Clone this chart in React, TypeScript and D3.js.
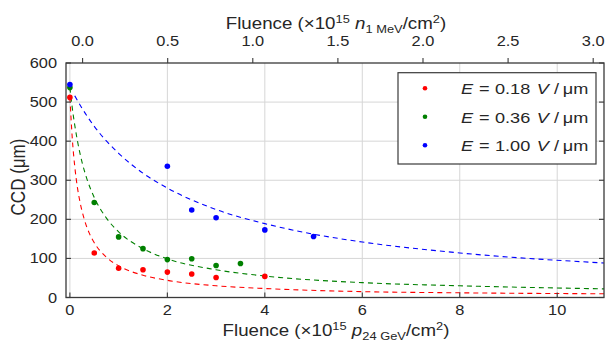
import React from "react";
import * as d3 from "d3";

// ---- data ----
const redX = [0, 0.5, 1, 1.5, 2, 2.5, 3, 4];
const redY = [512, 114, 75, 71, 65, 60, 51, 54];
const greenX = [0, 0.5, 1, 1.5, 2, 2.5, 3, 3.5];
const greenY = [537, 243, 155, 125, 97, 99, 82, 87];
const blueX = [0, 2, 2.5, 3, 4, 5];
const blueY = [545, 336, 224, 204, 173, 156];

// dashed fit curves
const redFitX = [0, 0.05, 0.1, 0.15, 0.2, 0.3, 0.4, 0.5, 0.75, 1, 1.5, 2, 3, 4, 6, 8, 11];
const redFitY = [512, 405, 335, 285, 249, 198, 164, 140, 103, 81, 57, 44, 30, 23, 15, 12, 9.5];
const greenFitX = [0, 0.05, 0.15, 0.25, 0.35, 0.5, 0.75, 1, 1.5, 2, 3, 4, 6, 8, 11];
const greenFitY = [537, 484, 404, 346, 303, 256, 203, 168, 125, 99, 71, 55, 38, 30, 22];
const blueFitX = [0.1, 0.25, 0.5, 1, 1.5, 2, 3, 4, 5, 6, 8, 11];
const blueFitY = [516, 484, 438, 369, 318, 280, 225, 189, 162, 142, 114, 88];

const bottomTicks = [0, 2, 4, 6, 8, 10];
const topTicks = [0, 0.5, 1, 1.5, 2, 2.5, 3];
const yTicks = [0, 100, 200, 300, 400, 500, 600];

const seriesColors = ["#ff0000", "#008000", "#0000ff"];
const legendValues = ["0.18", "0.36", "1.00"];

const S = 1.17; // horizontal stretch of the original figure's text
const TXT = "#262626";
const FONT = "'Liberation Sans', Arial, Helvetica, sans-serif";

function SText(props: any) {
  const { x, y, size, anchor = "start", italic = false, children } = props;
  return (
    <text
      transform={`translate(${x},${y}) scale(${S},1)`}
      fontSize={size}
      textAnchor={anchor}
      fill={TXT}
      fontFamily={FONT}
      fontStyle={italic ? "italic" : "normal"}
    >
      {children}
    </text>
  );
}

export default function App() {
  const L = 66, R = 604, T = 63, B = 297.5;
  const x = d3.scaleLinear().domain([-0.08, 10.96]).range([L, R]);
  const xTop = d3.scaleLinear().domain([-0.0975, 3.0635]).range([L, R]);
  const y = d3.scaleLinear().domain([0, 600]).range([B, T]);

  const line = d3
    .line<[number, number]>()
    .x((d) => x(d[0]))
    .y((d) => y(d[1]))
    .curve(d3.curveMonotoneX);

  const fits = [
    { xs: redFitX, ys: redFitY, c: seriesColors[0] },
    { xs: greenFitX, ys: greenFitY, c: seriesColors[1] },
    { xs: blueFitX, ys: blueFitY, c: seriesColors[2] },
  ];
  const pts = [
    { xs: redX, ys: redY, c: seriesColors[0] },
    { xs: greenX, ys: greenY, c: seriesColors[1] },
    { xs: blueX, ys: blueY, c: seriesColors[2] },
  ];

  const grid = "#d6d6d6";
  const axisC = "#3a3a3a";
  const legendRows = [88.3, 116.7, 145.3];

  return (
    <svg
      width={608}
      height={345}
      style={{ position: "absolute", left: 0, top: 0, background: "#fff" }}
    >
      <defs>
        <clipPath id="plot">
          <rect x={L} y={T} width={R - L} height={B - T} />
        </clipPath>
      </defs>
      {/* grid */}
      {bottomTicks.map((t) => (
        <line key={"gx" + t} x1={x(t)} x2={x(t)} y1={T} y2={B} stroke={grid} strokeWidth={1} />
      ))}
      {yTicks.slice(1, -1).map((t) => (
        <line key={"gy" + t} x1={L} x2={R} y1={y(t)} y2={y(t)} stroke={grid} strokeWidth={1} />
      ))}

      {/* fit curves */}
      <g clipPath="url(#plot)">
        {fits.map((f, i) => (
          <path
            key={"f" + i}
            d={line(f.xs.map((v, j) => [v, f.ys[j]] as [number, number])) || ""}
            fill="none"
            stroke={f.c}
            strokeWidth={1.1}
            strokeDasharray="5,4"
          />
        ))}
      </g>

      {/* points */}
      {pts.map((p, i) =>
        p.xs.map((v, j) => (
          <circle key={"p" + i + "-" + j} cx={x(v)} cy={y(p.ys[j])} r={2.8} fill={p.c} />
        ))
      )}

      {/* frame */}
      <rect x={L} y={T} width={R - L} height={B - T} fill="none" stroke={axisC} strokeWidth={1.3} />

      {/* bottom ticks (inward) + labels */}
      {bottomTicks.map((t) => (
        <g key={"bt" + t}>
          <line x1={x(t)} x2={x(t)} y1={B} y2={B - 5} stroke={axisC} strokeWidth={1.1} />
          <SText x={x(t)} y={315} size={14} anchor="middle">{String(t)}</SText>
        </g>
      ))}
      {/* top ticks (outward) + labels */}
      {topTicks.map((t) => (
        <g key={"tt" + t}>
          <line x1={xTop(t)} x2={xTop(t)} y1={T} y2={T - 5} stroke={axisC} strokeWidth={1.1} />
          <SText x={xTop(t)} y={45.5} size={14} anchor="middle">{d3.format(".1f")(t)}</SText>
        </g>
      ))}
      {/* y ticks left/right (inward) + labels */}
      {yTicks.map((t) => (
        <g key={"yt" + t}>
          <line x1={L} x2={L + 5} y1={y(t)} y2={y(t)} stroke={axisC} strokeWidth={1.1} />
          <line x1={R} x2={R - 5} y1={y(t)} y2={y(t)} stroke={axisC} strokeWidth={1.1} />
          <SText x={57} y={y(t) + 5} size={14} anchor="end">{String(t)}</SText>
        </g>
      ))}

      {/* axis titles */}
      <SText x={336} y={29} size={16} anchor="middle">
        Fluence (×10<tspan dy={-6} fontSize={11}>15</tspan>
        <tspan dy={6}> </tspan>
        <tspan fontStyle="italic">n</tspan>
        <tspan dy={4} fontSize={11}>1 MeV</tspan>
        <tspan dy={-4}>/cm</tspan>
        <tspan dy={-6} fontSize={11}>2</tspan>
        <tspan dy={6}>)</tspan>
      </SText>
      <SText x={336} y={336} size={16} anchor="middle">
        Fluence (×10<tspan dy={-6} fontSize={11}>15</tspan>
        <tspan dy={6}> </tspan>
        <tspan fontStyle="italic">p</tspan>
        <tspan dy={4} fontSize={11}>24 GeV</tspan>
        <tspan dy={-4}>/cm</tspan>
        <tspan dy={-6} fontSize={11}>2</tspan>
        <tspan dy={6}>)</tspan>
      </SText>
      <text
        transform={`translate(25,177) rotate(-90) scale(1,${S})`}
        fontSize={17}
        textAnchor="middle"
        fill={TXT}
        fontFamily={FONT}
      >
        CCD (μm)
      </text>

      {/* legend */}
      <rect x={398} y={72.7} width={198} height={91.3} fill="#fff" stroke={axisC} strokeWidth={1.2} />
      {legendValues.map((v, i) => {
        const cy = legendRows[i];
        const by = cy + 6;
        return (
          <g key={"lg" + i}>
            <circle cx={425} cy={cy} r={2.3} fill={seriesColors[i]} />
            <SText x={461} y={by} size={15.5} italic>E</SText>
            <SText x={479} y={by} size={15.5}>=</SText>
            <SText x={495} y={by} size={15.5}>{v}</SText>
            <SText x={536.7} y={by} size={15.5} italic>V</SText>
            <SText x={554} y={by} size={15.5}>/</SText>
            <SText x={562.7} y={by} size={15.5}>μm</SText>
          </g>
        );
      })}
    </svg>
  );
}
